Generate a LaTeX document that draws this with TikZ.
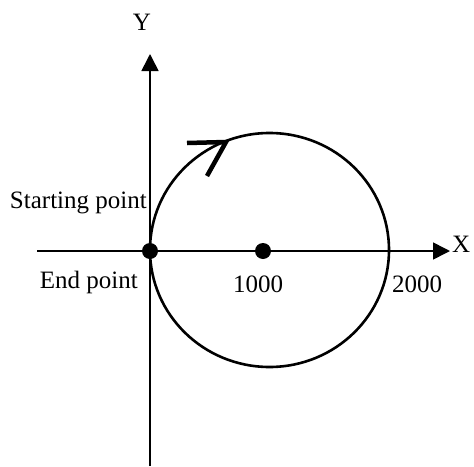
\documentclass[tikz,border=0pt]{standalone}
\usepackage{fontspec}
\setmainfont{Liberation Serif}
\usetikzlibrary{arrows.meta, positioning}

\begin{document}
\begin{tikzpicture}[x=1pt, y=-1pt,
    axis/.style={line width=1.6pt, -{Triangle[length=17pt, width=17pt]}},
    dot/.style={circle, fill, inner sep=0pt, minimum size=16pt},
    lbl/.style={font=\fontsize{25}{30}\selectfont, inner sep=0pt},
    track/.style={line width=2.6pt},
    dirmark/.style={line width=4.5pt}
  ]
  \useasboundingbox (0,0) rectangle (474,466);

  % --- AXES ---
  \coordinate (xl) at (37,251);
  \coordinate (xr) at (450,251);
  \coordinate (yb) at (150,466);
  \coordinate (yt) at (150,54);
  \draw[axis] (xl) -- (xr);
  \draw[axis] (yb) -- (yt);
  \node[lbl, anchor=west] (X) at (452,244) {X};
  \node[lbl] (Y) at (142,22) {Y};

  % --- CIRCULAR PATH ---
  \coordinate (ring) at (269.5,250);
  \draw[track] (ring) ellipse [x radius=119.5pt, y radius=117pt];
  \coordinate (m1) at (187,143);
  \coordinate (m2) at (226,142);
  \coordinate (m3) at (207,176);
  \draw[dirmark] (m1) -- (m2) -- (m3);

  % --- POINTS ---
  \node[dot] (start) at (150,251) {};
  \node[dot] (mid) at (263,251) {};

  \node[lbl, anchor=east] (startlbl) at (147,203) {Starting point};
  \node[lbl, anchor=east] (endlbl) at (138,282) {End point};
  \node[lbl] (k1) at (258,284) {1000};
  \node[lbl, anchor=west] (k2) at (392,284) {2000};
\end{tikzpicture}
\end{document}
